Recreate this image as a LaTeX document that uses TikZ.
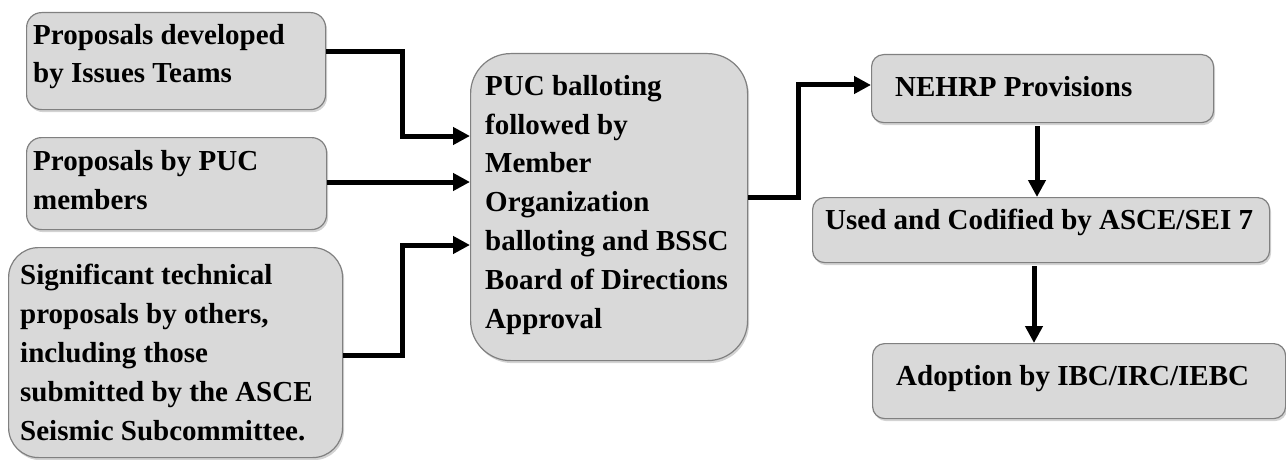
\documentclass[tikz,border=0pt]{standalone}
\usepackage{fontspec}
\setmainfont{Liberation Serif}
\usetikzlibrary{arrows.meta,shadows}
\definecolor{boxfill}{HTML}{D9D9D9}
\definecolor{boxline}{HTML}{808080}
\begin{document}
\begin{tikzpicture}[x=1pt,y=-1pt,
  box/.style={draw=boxline,line width=1.2pt,fill=boxfill,anchor=north west,inner sep=0pt,
    drop shadow={shadow xshift=1.5pt,shadow yshift=-2.5pt,opacity=0.35}},
  txt/.style={anchor=base west,inner sep=0pt,align=left,font=\fontsize{29}{38.8}\selectfont\bfseries},
  conn/.style={line width=5pt,-{Triangle[length=17pt,width=17pt]}}]
\useasboundingbox (0,0) rectangle (1286,460);
% boxes
\node[box,rounded corners=15pt,minimum width=299pt,minimum height=97pt] (b1) at (26,12) {};
\node[box,rounded corners=15pt,minimum width=300pt,minimum height=92pt] (b2) at (26,137) {};
\node[box,rounded corners=30pt,minimum width=334pt,minimum height=210pt] (b3) at (8,247) {};
\node[box,rounded corners=40pt,minimum width=277pt,minimum height=307pt] (c) at (470,53) {};
\node[box,rounded corners=12pt,minimum width=342pt,minimum height=68pt] (n) at (871,54) {};
\node[box,rounded corners=12pt,minimum width=457pt,minimum height=65pt] (u) at (812,197) {};
\node[box,rounded corners=12pt,minimum width=413pt,minimum height=75pt] (a) at (872,343) {};
% texts (anchored at the baseline of their last line)
\node[txt] (t1) at (33,83) {Proposals developed\\by Issues Teams};
\node[txt] (t2) at (33,209) {Proposals by PUC\\members};
\node[txt] (t3) at (20,440) {Significant technical\\proposals by others,\\including those\\submitted by the ASCE\\Seismic Subcommittee.};
\node[txt] (tc) at (485,328) {PUC balloting\\followed by\\Member\\Organization\\balloting and BSSC\\Board of Directions\\Approval};
\node[txt] (tn) at (895,96) {NEHRP Provisions};
\node[txt] (tu) at (825,229) {Used and Codified by ASCE/SEI 7};
\node[txt] (ta) at (896,385) {Adoption by IBC/IRC/IEBC};
% connectors
\draw[conn] (b1.east|-0,52) -- (402,52) -- (402,136) -- (c.west|-0,136);
\draw[conn] (b2.east|-0,182) -- (c.west|-0,182);
\draw[conn] (b3.east|-0,355) -- (402,355) -- (402,245) -- (c.west|-0,245);
\draw[conn] (c.east|-0,197) -- (798,197) -- (798,85) -- (n.west|-0,85);
\draw[conn,shorten <=3pt] (n.south-|1037,0) -- (u.north-|1037,0);
\draw[conn,shorten <=3pt] (u.south-|1034,0) -- (a.north-|1034,0);
\end{tikzpicture}
\end{document}
